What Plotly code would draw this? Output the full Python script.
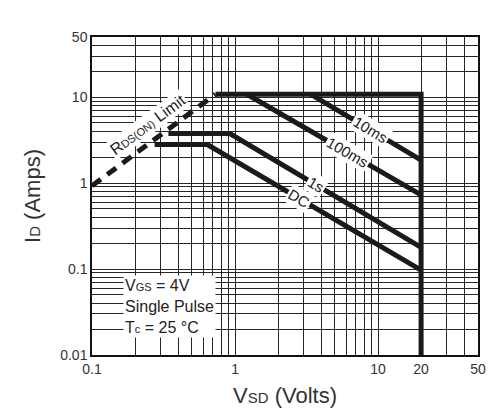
import math
import plotly.graph_objects as go

# ---- data ----
x_tick_vals = [0.1, 1, 10, 20, 50]
x_tick_text = ["0.1", "1", "10", "20", "50"]
y_tick_vals = [0.01, 0.1, 1, 10, 50]
y_tick_text = ["0.01", "0.1", "1", "10", "50"]

rds_v = [0.1, 0.73]
rds_i = [0.93, 10.8]

limit_v = [0.73, 20, 20]
limit_i = [10.8, 10.8, 0.01]

ms10_v = [3.37, 20]
ms10_i = [10.8, 1.85]

ms100_v = [1.21, 20]
ms100_i = [10.8, 0.73]

s1_v = [0.342, 0.92, 20]
s1_i = [3.77, 3.77, 0.179]

dc_v = [0.274, 0.64, 20]
dc_i = [2.81, 2.81, 0.097]

# ---- layout constants ----
W, H = 499, 418
ML, MR, MT, MB = 92, 21, 37, 63
XR = [math.log10(0.1), math.log10(50)]
YR = [math.log10(0.01), math.log10(50)]
PW, PH = W - ML - MR, H - MT - MB
FONT = "Arial, Liberation Sans, sans-serif"
INK = "#1a1a1a"


def minor_vals(lo, hi):
    out = []
    for e in range(-3, 3):
        for m in range(2, 10):
            v = m * 10 ** e
            if lo < v < hi:
                out.append(v)
    return out


def seg_label(vs, is_, k, frac):
    """point at fraction along segment k of a polyline (log space) and its screen angle"""
    lx0, lx1 = math.log10(vs[k]), math.log10(vs[k + 1])
    ly0, ly1 = math.log10(is_[k]), math.log10(is_[k + 1])
    lx = lx0 + frac * (lx1 - lx0)
    ly = ly0 + frac * (ly1 - ly0)
    dx = (lx1 - lx0) / (XR[1] - XR[0]) * PW
    dy = (ly1 - ly0) / (YR[1] - YR[0]) * PH
    ang = math.degrees(math.atan2(dy, dx))
    return 10 ** lx, 10 ** ly, ang


fig = go.Figure()

fig.add_trace(go.Scatter(x=rds_v, y=rds_i, mode="lines",
                         line=dict(color=INK, width=5, dash="11px,8px"),
                         hoverinfo="skip", showlegend=False))
for vs, is_ in [(limit_v, limit_i), (ms10_v, ms10_i), (ms100_v, ms100_i),
                (s1_v, s1_i), (dc_v, dc_i)]:
    fig.add_trace(go.Scatter(x=vs, y=is_, mode="lines",
                             line=dict(color=INK, width=5),
                             hoverinfo="skip", showlegend=False))


def small(t, s=11):
    return f"<span style='font-size:{s}px'>{t}</span>"


# curve labels
labels = [
    (ms10_v, ms10_i, 0, 0.54, "10ms"),
    (ms100_v, ms100_i, 0, 0.58, "100ms"),
    (s1_v, s1_i, 1, 0.45, "1s"),
    (dc_v, dc_i, 1, 0.43, "DC"),
]
for vs, is_, k, f, txt in labels:
    x, y, ang = seg_label(vs, is_, k, f)
    fig.add_annotation(x=math.log10(x), y=math.log10(y), text=txt,
                       textangle=-ang, showarrow=False,
                       font=dict(family=FONT, size=15, color=INK),
                       bgcolor="white", borderpad=1)

x, y, ang = seg_label(rds_v, rds_i, 0, 0.53)
off = 16
fig.add_annotation(x=math.log10(x), y=math.log10(y),
                   text="R" + small("DS(ON)") + " Limit",
                   textangle=-ang, showarrow=False,
                   xshift=-off * math.sin(math.radians(ang)),
                   yshift=off * math.cos(math.radians(ang)),
                   font=dict(family=FONT, size=16, color=INK),
                   bgcolor="white", borderpad=1)

# condition box
fig.add_annotation(xref="paper", yref="paper", x=(123 - ML) / PW, y=(H - MB - 338) / PH,
                   xanchor="left", yanchor="bottom", align="left",
                   text="V" + small("GS") + " = 4V<br>Single Pulse<br>T" + small("c") + " = 25 \u00b0C",
                   showarrow=False,
                   font=dict(family=FONT, size=16, color="#222"),
                   bgcolor="white", borderpad=1)

grid = "#262626"
fig.update_xaxes(type="log", range=XR, tickmode="array", tickvals=x_tick_vals,
                 ticktext=x_tick_text, ticks="", showgrid=True, gridcolor=grid,
                 gridwidth=1, showline=True, linecolor="#111", linewidth=1.5,
                 mirror=True, zeroline=False,
                 minor=dict(tickmode="array", tickvals=minor_vals(0.1, 50),
                            showgrid=True, gridcolor=grid, gridwidth=1, ticks=""),
                 tickfont=dict(family=FONT, size=14, color="#333"),
                 title=dict(text="V" + small("SD", 15) + " (Volts)",
                            font=dict(family=FONT, size=22, color="#333"), standoff=12))
fig.update_yaxes(type="log", range=YR, tickmode="array", tickvals=y_tick_vals,
                 ticktext=y_tick_text, ticks="", showgrid=True, gridcolor=grid,
                 gridwidth=1, showline=True, linecolor="#111", linewidth=1.5,
                 mirror=True, zeroline=False,
                 minor=dict(tickmode="array", tickvals=minor_vals(0.01, 50),
                            showgrid=True, gridcolor=grid, gridwidth=1, ticks=""),
                 tickfont=dict(family=FONT, size=14, color="#333"),
                 title=dict(text="I" + small("D", 15) + " (Amps)",
                            font=dict(family=FONT, size=22, color="#333"), standoff=14))

fig.update_layout(width=W, height=H, margin=dict(l=ML, r=MR, t=MT, b=MB),
                  plot_bgcolor="white", paper_bgcolor="white", showlegend=False)

fig.write_html("out.html",
               config={"displayModeBar": False},
               post_script="document.body.style.margin='0';"
                           "document.body.style.overflow='hidden';")
